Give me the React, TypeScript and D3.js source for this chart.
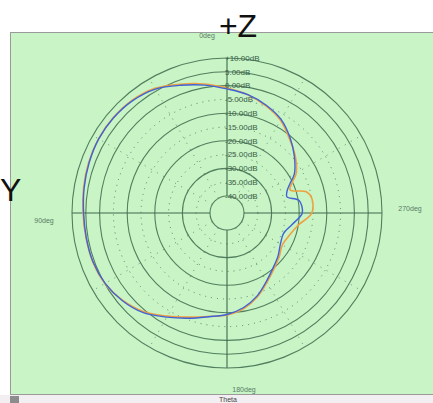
import React from "react";
import * as d3 from "d3";

// polar pattern, theta measured from top, counter-clockwise (90deg on the left)
const angles = [0, 10, 20, 30, 40, 50, 60, 70, 80, 90, 100, 110, 120, 130, 140, 150, 160, 170,
    180, 190, 200, 210, 220, 230, 240, 250, 260, 270, 280, 285, 290, 295, 300, 310, 320, 330, 340, 350];
const orangeDb = [-0.9, 1.3, 3.5, 6.0, 7.2, 7.6, 7.6, 7.2, 6.6, 6.0, 5.7, 5.6, 4.9, 3.1, 0.6, -3.0, -6.0, -8.1,
    -9.2, -11.0, -13.9, -17.2, -19.7, -21.5, -23.0, -22.2, -20.1, -15.4, -15.0, -16.4, -21.8, -20.1, -17.2, -13.9, -11.0, -7.4, -4.9, -2.7];
const blueDb = [-1.2, 0.9, 3.1, 5.7, 7.0, 7.5, 7.5, 7.0, 6.4, 5.8, 5.6, 5.5, 4.8, 3.3, 1.0, -2.6, -5.6, -8.0,
    -9.4, -11.4, -14.2, -17.6, -20.2, -22.0, -23.8, -24.4, -22.2, -18.9, -19.7, -23.7, -23.0, -21.0, -18.0, -14.3, -10.6, -7.0, -4.6, -2.6];

const ringLevels = [10, 5, 0, -5, -10, -15, -20, -25, -30, -35, -40];
const ringLabels = ["+10.00dB", "5.00dB", "0.00dB", "-5.00dB", "-10.00dB", "-15.00dB", "-20.00dB",
    "-25.00dB", "-30.00dB", "-35.00dB", "-40.00dB"];
const dottedRings = [-5, -15, -25, -35];
const spokeAngles = [30, 60, 120, 150, 210, 240, 300, 330];
const angleLabels = ["0deg", "90deg", "180deg", "270deg"];

const cx = 227, cy = 213;
const grid = "#3d6a4c";

export default function App() {
    const r = d3.scaleLinear().domain([-40, 10]).range([17, 155]);
    const toXY = (deg, rad) => {
        const a = (deg * Math.PI) / 180;
        return [cx - rad * Math.sin(a), cy - rad * Math.cos(a)];
    };
    const line = d3.lineRadial()
        .angle((d) => (-d[0] * Math.PI) / 180)
        .radius((d) => r(d[1]))
        .curve(d3.curveCatmullRomClosed);
    const orange = line(angles.map((a, i) => [a, orangeDb[i]]));
    const blue = line(angles.map((a, i) => [a, blueDb[i]]));

    return (
        <svg width={433} height={403} style={{ position: "absolute", left: 0, top: 0 }}
            fontFamily="Liberation Sans, Arial, sans-serif">
            <rect x={0} y={0} width={433} height={403} fill="#ffffff" />
            <rect x={0} y={395} width={433} height={8} fill="#f3eef2" />
            <rect x={10.5} y={32.5} width={430} height={362} fill="#c8f4c6" stroke="#9a9a9a" />
            <rect x={10} y={396} width={9} height={7} fill="#8c8c8c" />

            {/* rings */}
            {ringLevels.map((lv, i) => (
                <circle key={i} cx={cx} cy={cy} r={r(lv)} fill="none" stroke={grid}
                    strokeWidth={dottedRings.includes(lv) ? 1 : 1.1}
                    strokeDasharray={dottedRings.includes(lv) ? "1,5" : null}
                    opacity={dottedRings.includes(lv) ? 0.8 : 0.85} />
            ))}
            {/* spokes */}
            {spokeAngles.map((a, i) => {
                const [x1, y1] = toXY(a, r(-40));
                const [x2, y2] = toXY(a, r(10));
                return <line key={i} x1={x1} y1={y1} x2={x2} y2={y2} stroke={grid}
                    strokeDasharray="1,6" opacity={0.7} />;
            })}
            <line x1={cx} y1={cy - r(10)} x2={cx} y2={cy - r(-40)} stroke={grid} strokeWidth={1.1} />
            <line x1={cx} y1={cy + r(-40)} x2={cx} y2={cy + r(10)} stroke={grid} strokeWidth={1.1} />
            <line x1={cx - r(10)} y1={cy} x2={cx - r(-40)} y2={cy} stroke={grid} strokeWidth={1.1} />
            <line x1={cx + r(-40)} y1={cy} x2={cx + r(10)} y2={cy} stroke={grid} strokeWidth={1.1} />

            {/* pattern */}
            <g transform={`translate(${cx},${cy})`}>
                <path d={orange} fill="none" stroke="#f0a040" strokeWidth={1.6} />
                <path d={blue} fill="none" stroke="#3f62d6" strokeWidth={1.4} />
            </g>

            {/* ring labels */}
            {ringLevels.map((lv, i) => (
                <text key={i} x={cx - 2} y={cy - r(lv)} dy="0.35em" fontSize={8} fill="#3a6048">
                    {ringLabels[i]}
                </text>
            ))}

            <text x={207} y={38} fontSize={7} fill="#5a7a66" textAnchor="middle">{angleLabels[0]}</text>
            <text x={44} y={223} fontSize={7} fill="#5a7a66" textAnchor="middle">{angleLabels[1]}</text>
            <text x={244} y={392} fontSize={7} fill="#5a7a66" textAnchor="middle">{angleLabels[2]}</text>
            <text x={410} y={211} fontSize={7} fill="#5a7a66" textAnchor="middle">{angleLabels[3]}</text>
            <text x={228} y={402} fontSize={7} fill="#444" textAnchor="middle">Theta</text>

            <text x={238} y={37} fontSize={32} fill="#111" textAnchor="middle">+Z</text>
            <text x={0} y={201} fontSize={32} fill="#111">Y</text>
        </svg>
    );
}
